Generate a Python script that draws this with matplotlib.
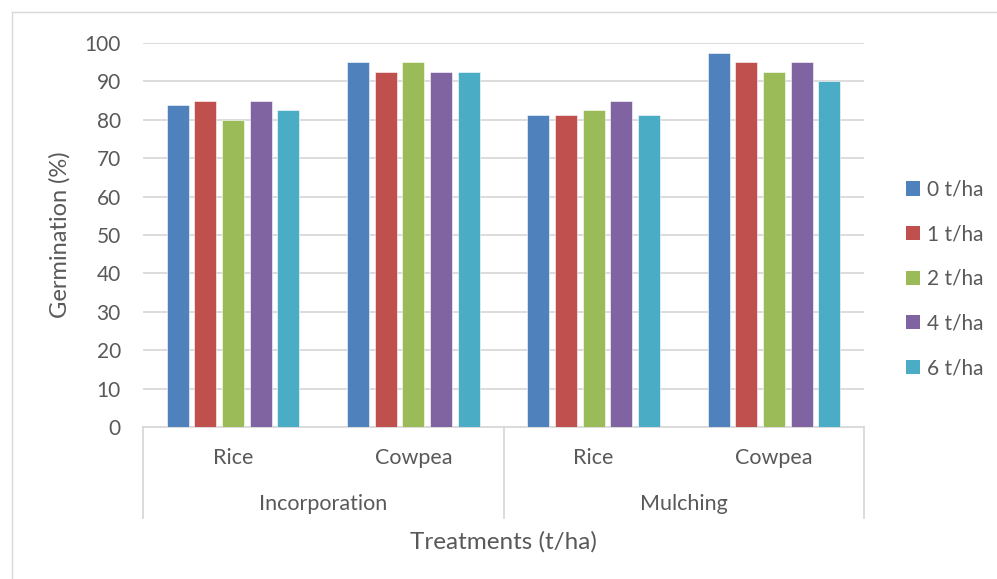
import numpy as np
import matplotlib
matplotlib.use("Agg")
import matplotlib.pyplot as plt
from matplotlib.lines import Line2D
from matplotlib.patches import Patch
import matplotlib.transforms as mtransforms

plt.rcParams["font.family"] = ["Lato", "DejaVu Sans"]

# data
subcats = ["Rice", "Cowpea", "Rice", "Cowpea"]
groups = ["Incorporation", "Mulching"]
rates = ["0 t/ha", "1 t/ha", "2 t/ha", "4 t/ha", "6 t/ha"]
rate0 = [83.75, 95.0, 81.25, 97.5]
rate1 = [85.0, 92.5, 81.25, 95.0]
rate2 = [80.0, 95.0, 82.5, 92.5]
rate4 = [85.0, 92.5, 85.0, 95.0]
rate6 = [82.5, 92.5, 81.25, 90.0]
series = [rate0, rate1, rate2, rate4, rate6]
colors = ["#4F81BD", "#C0504D", "#9BBB59", "#8064A2", "#4BACC6"]

TXT = "#595959"
GRID = "#d9d9d9"

fig = plt.figure(figsize=(9.97, 5.79), dpi=100)
ax = fig.add_axes([143 / 997, 1 - 427 / 579, (864 - 143) / 997, (427 - 43) / 579])

x = np.arange(len(subcats))
slot, bw = 0.1535, 0.122
for i, (vals, col, lab) in enumerate(zip(series, colors, rates)):
    ax.bar(x + (i - 2) * slot, vals, width=bw, color=col, edgecolor="white",
           linewidth=0.4, label=lab, zorder=3)

ax.set_xlim(-0.5, len(subcats) - 0.5)
ax.set_ylim(0, 100)
ax.set_yticks(np.arange(0, 101, 10))
ax.yaxis.grid(True, color=GRID, lw=1.3, zorder=0)
ax.tick_params(axis="y", length=0, pad=16, labelsize=15, labelcolor=TXT)
ax.set_xticks([])
for s in ("top", "right", "left"):
    ax.spines[s].set_visible(False)
ax.spines["bottom"].set_color(GRID)
ax.spines["bottom"].set_linewidth(1.3)

# multi-level category axis
tr = mtransforms.blended_transform_factory(ax.transData, ax.transAxes)
for xx in (-0.5, 1.5, 3.5):
    ax.add_line(Line2D([xx, xx], [0, -0.237], transform=tr, color=GRID, lw=1.3,
                       clip_on=False))
for xi, lab in zip(x, subcats):
    ax.text(xi, -0.081, lab, transform=tr, ha="center", va="center",
            fontsize=15.5, color=TXT)
for gi, lab in enumerate(groups):
    ax.text(2 * gi + 0.5, -0.2, lab, transform=tr, ha="center", va="center",
            fontsize=15.5, color=TXT)

ax.set_ylabel("Germination (%)", fontsize=17, color=TXT)
ax.yaxis.set_label_coords(-72 / 721, 0.5)
fig.text(503 / 997, 1 - 542 / 579, "Treatments (t/ha)", ha="center", va="center",
         fontsize=17.5, color=TXT)

handles = [Patch(facecolor=c, label=l) for c, l in zip(colors, rates)]
fig.legend(handles=handles, loc="center left", bbox_to_anchor=(906 / 997, 1 - 279 / 579),
           frameon=False, fontsize=15, labelcolor=TXT, handlelength=0.68,
           handleheight=0.68, handletextpad=0.35, labelspacing=1.18,
           borderpad=0, borderaxespad=0)

# chart border
fig.add_artist(Line2D([12 / 997, 12 / 997], [0, 1 - 12 / 579], color=GRID, lw=1))
fig.add_artist(Line2D([12 / 997, 1], [1 - 12 / 579, 1 - 12 / 579], color=GRID, lw=1))

fig.savefig("out.png", dpi=100, facecolor="white")
